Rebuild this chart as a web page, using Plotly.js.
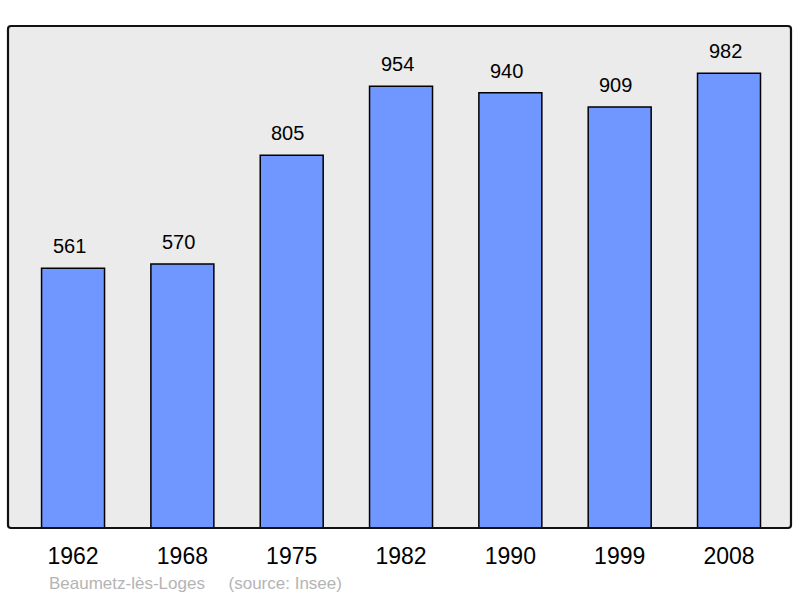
<!DOCTYPE html>
<html>
<head>
<meta charset="utf-8">
<script src="https://cdn.plot.ly/plotly-3.0.1.min.js"></script>
<style>
  body { margin: 0; background: #fff; }
  #chart { width: 800px; height: 598px; }
</style>
</head>
<body>
<div id="chart"></div>
<script>
// population by census year
var years = ['1962', '1968', '1975', '1982', '1990', '1999', '2008'];
var population = [561, 570, 805, 954, 940, 909, 982];
var townName = 'Beaumetz-lès-Loges';
var sourceNote = '(source: Insee)';

var trace = {
  type: 'bar',
  x: years,
  y: population,
  width: 0.576,
  marker: {color: '#7096ff', line: {color: '#000', width: 1.5}},
  hoverinfo: 'x+y'
};

// value labels above each bar (x by category index)
var labels = years.map(function (yr, i) {
  return {
    x: i,
    y: population[i],
    text: String(population[i]),
    showarrow: false,
    yanchor: 'middle',
    yshift: 22,
    xshift: -4,
    font: {size: 20, color: '#000'}
  };
});

labels.push({
  xref: 'paper', yref: 'paper',
  x: 0.05, y: -0.11,
  xanchor: 'left', yanchor: 'middle',
  text: townName + '&nbsp;&nbsp;&nbsp;&nbsp;&nbsp;' + sourceNote,
  showarrow: false,
  font: {size: 17, color: '#b4b4b4'}
});

// frame with slightly rounded corners (paper units)
var rx = 0.004, ry = 0.006;
var framePath = 'M ' + rx + ',1 L ' + (1 - rx) + ',1 Q 1,1 1,' + (1 - ry) +
  ' L 1,' + ry + ' Q 1,0 ' + (1 - rx) + ',0 L ' + rx + ',0 Q 0,0 0,' + ry +
  ' L 0,' + (1 - ry) + ' Q 0,1 ' + rx + ',1 Z';

var layout = {
  width: 800,
  height: 598,
  margin: {l: 8, r: 9, t: 26, b: 70},
  paper_bgcolor: '#fff',
  plot_bgcolor: '#ebebeb',
  font: {family: 'Liberation Sans, Arial, sans-serif'},
  showlegend: false,
  bargap: 0,
  xaxis: {
    type: 'category',
    range: [-0.595, 6.567],
    showgrid: false,
    zeroline: false,
    ticks: 'outside',
    ticklen: 7,
    tickcolor: 'rgba(0,0,0,0)',
    tickfont: {size: 23, color: '#000'}
  },
  yaxis: {
    range: [0, 1084],
    showgrid: false,
    zeroline: false,
    showticklabels: false
  },
  annotations: labels,
  shapes: [{
    type: 'path',
    xref: 'paper', yref: 'paper',
    path: framePath,
    line: {color: '#111', width: 2.2}
  }]
};

Plotly.newPlot('chart', [trace], layout, {displayModeBar: false, staticPlot: true});
</script>
</body>
</html>
